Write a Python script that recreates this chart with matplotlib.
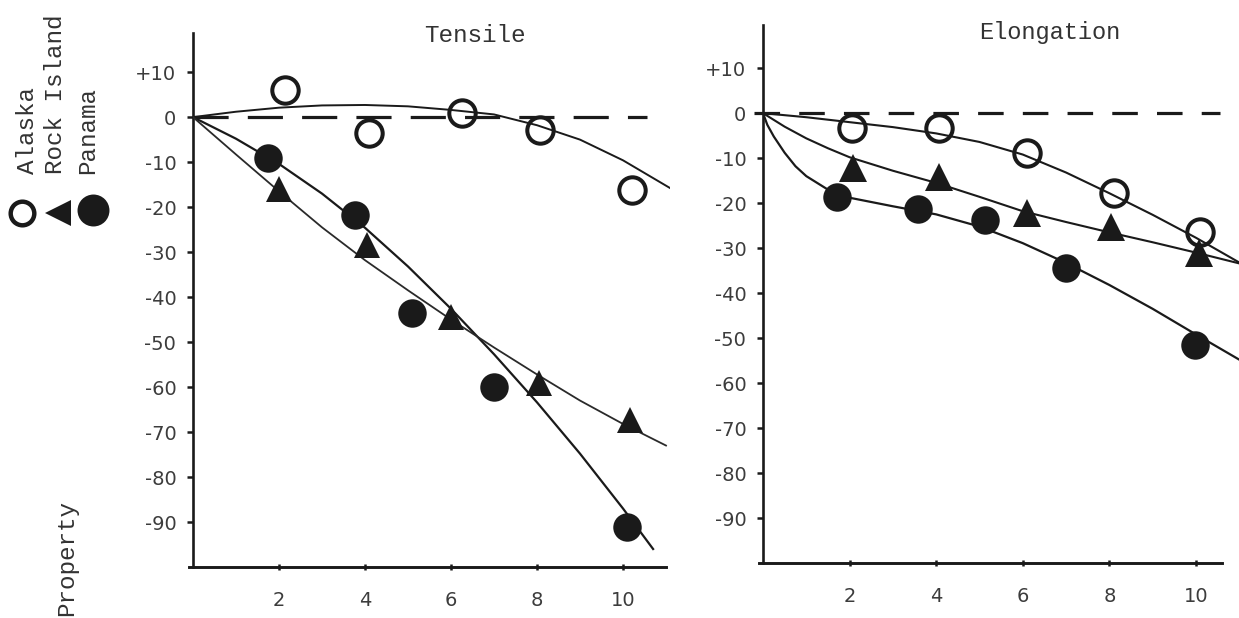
import matplotlib
matplotlib.use('Agg')
import matplotlib.pyplot as plt

# axis ticks
x_ticks = [2, 4, 6, 8, 10]
x_labels = ['2', '4', '6', '8', '10']
y_ticks = [10, 0, -10, -20, -30, -40, -50, -60, -70, -80, -90]
y_labels = ['+10', '0', '-10', '-20', '-30', '-40', '-50', '-60', '-70', '-80', '-90']

# Tensile: measured points
t_alaska_x = [2.14, 4.1, 6.26, 8.07, 10.2]
t_alaska_y = [6.0, -3.6, 0.9, -2.9, -16.2]
t_rock_x = [2.0, 4.05, 6.0, 8.05, 10.16]
t_rock_y = [-16.0, -28.5, -44.5, -59.0, -67.3]
t_panama_x = [1.74, 3.77, 5.1, 7.0, 10.1]
t_panama_y = [-9.0, -21.8, -43.6, -60.0, -91.1]

# Tensile: drawn curves
t_alaska_fit_x = [0, 1, 2, 3, 4, 5, 6, 7, 8, 9, 10, 11.1]
t_alaska_fit_y = [0, 1.2, 2.1, 2.6, 2.7, 2.4, 1.6, 0.6, -1.8, -5.0, -9.6, -15.8]
t_panama_fit_x = [0, 1, 2, 3, 4, 5, 6, 7, 8, 9, 10, 10.7]
t_panama_fit_y = [0, -4.8, -10.4, -17.0, -24.6, -33.2, -42.6, -52.7, -63.4, -74.8, -87.0, -96.0]
t_rock_fit_x = [0, 1, 2, 3, 4, 5, 6, 7, 8, 9, 10, 11]
t_rock_fit_y = [0, -8.3, -16.5, -24.5, -31.8, -38.5, -45.0, -51.2, -57.2, -63.0, -68.2, -73.0]

# Elongation: measured points
e_alaska_x = [2.06, 4.06, 6.1, 8.1, 10.1]
e_alaska_y = [-3.3, -3.3, -8.9, -17.8, -26.4]
e_rock_x = [2.08, 4.06, 6.1, 8.04, 10.07]
e_rock_y = [-12.2, -14.2, -22.2, -25.3, -31.1]
e_panama_x = [1.7, 3.58, 5.13, 7.0, 9.98]
e_panama_y = [-18.6, -21.2, -23.8, -34.5, -51.6]

# Elongation: drawn curves
e_alaska_fit_x = [0, 1, 2, 3, 4, 5, 6, 7, 8, 9, 10, 11]
e_alaska_fit_y = [0, -0.9, -2.0, -3.1, -4.5, -6.4, -9.2, -13.2, -17.8, -22.6, -27.7, -33.2]
e_rock_fit_x = [0, 0.5, 1, 1.5, 2, 3, 4, 5, 6, 7, 8, 9, 10, 11]
e_rock_fit_y = [0, -3.0, -5.6, -7.8, -9.8, -12.8, -15.5, -18.6, -21.8, -24.2, -26.5, -28.7, -31.0, -33.4]
e_panama_fit_x = [0, 0.1, 0.25, 0.5, 0.75, 1, 1.5, 2, 3, 4, 5, 6, 7, 8, 9, 10, 11]
e_panama_fit_y = [0, -2.6, -5.2, -8.8, -11.8, -14.0, -17.0, -18.8, -20.7, -22.5, -25.2, -28.9, -33.3, -38.2, -43.5, -49.2, -54.8]

W, H = 1239, 618
INK = '#1a1a1a'
TYPE = 'Liberation Mono'

fig = plt.figure(figsize=(W / 100, H / 100), dpi=100)
fig.patch.set_facecolor('white')

ax1 = fig.add_axes([193 / W, (H - 567) / H, 477.3 / W, 534 / H])
ax2 = fig.add_axes([763 / W, (H - 563) / H, 476.3 / W, 538 / H])


def style_axes(ax, xmax, ytop, xend):
    ax.set_xlim(0, xmax)
    ax.set_ylim(-100, ytop)
    for s in ['top', 'right']:
        ax.spines[s].set_visible(False)
    ax.spines['left'].set_linewidth(1.9)
    ax.spines['bottom'].set_linewidth(2.1)
    ax.spines['left'].set_color(INK)
    ax.spines['bottom'].set_color(INK)
    ax.spines['bottom'].set_bounds(-0.1, xend)
    ax.set_xticks(x_ticks)
    ax.set_xticklabels(x_labels)
    ax.set_yticks(y_ticks)
    ax.set_yticklabels(y_labels)
    ax.tick_params(axis='y', direction='out', length=4, width=1.8, pad=8,
                   colors=INK, labelcolor='#3c3c3c', labelsize=14)
    ax.tick_params(axis='x', direction='inout', length=4, width=1.8, pad=15,
                   colors=INK, labelcolor='#3c3c3c', labelsize=14)
    ax.set_facecolor('none')


style_axes(ax1, 11.1, 18.7, 11.0)
style_axes(ax2, 11.0, 19.6, 10.6)
ax1.spines['bottom'].set_clip_on(False)
ax2.spines['bottom'].set_clip_on(False)

# zero reference lines
ax1.plot([0, 10.55], [0, 0], color=INK, lw=2.3, dashes=(11, 6), zorder=2)
ax2.plot([-0.2, 10.55], [0, 0], color=INK, lw=2.3, dashes=(8, 6), zorder=2, clip_on=False)

# Tensile
ax1.plot(t_alaska_fit_x, t_alaska_fit_y, color=INK, lw=1.4, zorder=3)
ax1.plot(t_panama_fit_x, t_panama_fit_y, color=INK, lw=1.6, zorder=3)
ax1.plot(t_rock_fit_x, t_rock_fit_y, color='#2a2a2a', lw=1.3, zorder=3)
ax1.plot(t_alaska_x, t_alaska_y, 'o', ms=19, mfc='none', mec=INK, mew=2.9, zorder=4)
ax1.plot(t_rock_x, t_rock_y, '^', ms=18.5, color=INK, mew=0, zorder=4)
ax1.plot(t_panama_x, t_panama_y, 'o', ms=20.5, color=INK, mew=0, zorder=4)

# Elongation
ax2.plot(e_alaska_fit_x, e_alaska_fit_y, color=INK, lw=1.5, zorder=3)
ax2.plot(e_rock_fit_x, e_rock_fit_y, color=INK, lw=1.5, zorder=3)
ax2.plot(e_panama_fit_x, e_panama_fit_y, color=INK, lw=1.6, zorder=3)
ax2.plot(e_alaska_x, e_alaska_y, 'o', ms=19, mfc='none', mec=INK, mew=2.9, zorder=4)
ax2.plot(e_rock_x, e_rock_y, '^', ms=19.5, color=INK, mew=0, zorder=4)
ax2.plot(e_panama_x, e_panama_y, 'o', ms=20.5, color=INK, mew=0, zorder=4)

# panel titles
fig.text(475 / W, 1 - 35 / H, 'Tensile', family=TYPE, fontsize=17.5, color='#333333',
         ha='center', va='center')
fig.text(1050 / W, 1 - 33 / H, 'Elongation', family=TYPE, fontsize=17, color='#333333',
         ha='center', va='center')

# vertical legend at the left
legend_names = ['Alaska', 'Rock Island', 'Panama']
legend_x = [28, 56, 88]
for name, lx in zip(legend_names, legend_x):
    fig.text(lx / W, 1 - 174 / H, name, family=TYPE, fontsize=17.5, color='#333333',
             rotation=90, ha='center', va='bottom')

key = fig.add_axes([0, 0, 1, 1], zorder=-1)
key.set_xlim(0, W)
key.set_ylim(H, 0)
key.axis('off')
key.plot([22], [213], 'o', ms=17, mfc='none', mec=INK, mew=3.2)
key.plot([58], [213], '<', ms=19, color=INK, mew=0)
key.plot([93], [210], 'o', ms=23, color=INK, mew=0)

fig.text(67 / W, 1 - 500 / H, 'Property', family=TYPE, fontsize=17.5, color='#333333',
         rotation=90, ha='center', va='top')

fig.savefig('out.png', dpi=100, facecolor='white')
